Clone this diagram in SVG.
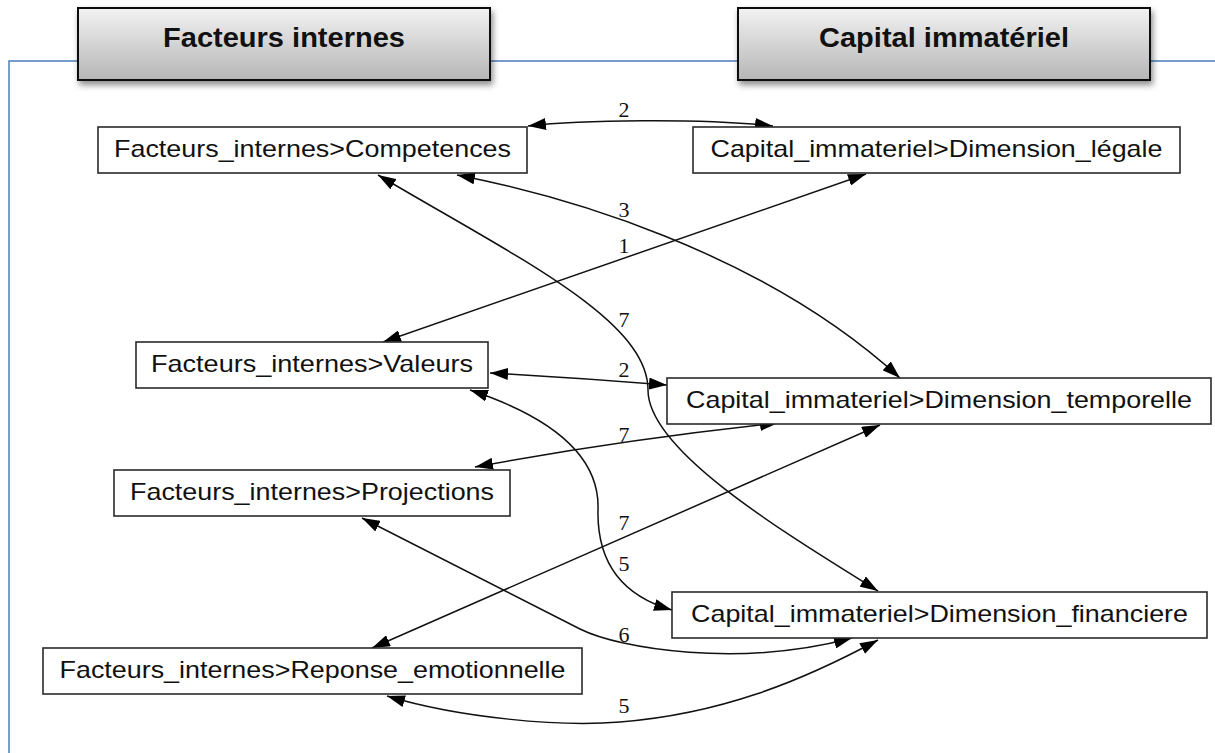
<svg xmlns="http://www.w3.org/2000/svg" width="1215" height="753" viewBox="0 0 1215 753">
  <style>
    .frame { fill: none; stroke: #4a7ebb; stroke-width: 1.5; }
    .hdr rect { fill: url(#hdrFill); stroke: #111; stroke-width: 2; filter: url(#hdrShadow); }
    .hdr text { font-family: "Liberation Sans", Arial, sans-serif; font-weight: bold; font-size: 28px; fill: #111; text-anchor: middle; }
    .node rect { fill: #fff; stroke: #2a2a2a; stroke-width: 1.6; }
    .node text { font-family: "Liberation Sans", Arial, sans-serif; font-size: 24px; fill: #111; text-anchor: middle; }
    .edge { fill: none; stroke: #111; stroke-width: 1.5; marker-start: url(#head); marker-end: url(#head); }
    .lbl { font-family: "Liberation Serif", "Times New Roman", serif; font-size: 22px; fill: #111; text-anchor: middle; }
  </style>
  <defs>
    <linearGradient id="hdrFill" x1="0" y1="0" x2="0" y2="1">
      <stop offset="0" stop-color="#f2f2f2"/>
      <stop offset="1" stop-color="#b6b6b6"/>
    </linearGradient>
    <filter id="hdrShadow" x="-10%" y="-20%" width="125%" height="160%">
      <feDropShadow dx="2" dy="4" stdDeviation="3" flood-color="#000" flood-opacity="0.45"/>
    </filter>
    <marker id="head" viewBox="0 0 18 12" refX="18" refY="6" markerWidth="18" markerHeight="12" markerUnits="userSpaceOnUse" orient="auto-start-reverse">
      <path d="M0,0 L18,6 L0,12 z" fill="#000"/>
    </marker>
  </defs>

  <rect width="1215" height="753" fill="#fff"/>

  <!-- blue frame -->
  <path class="frame" d="M9,753 V61 H1215"/>

  <!-- section headers -->
  <g id="header-facteurs" class="hdr">
    <rect x="78" y="8" width="412" height="72"/>
    <text x="284" y="47" textLength="242" lengthAdjust="spacingAndGlyphs">Facteurs internes</text>
  </g>
  <g id="header-capital" class="hdr">
    <rect x="738" y="8" width="412" height="72"/>
    <text x="944" y="47" textLength="250" lengthAdjust="spacingAndGlyphs">Capital immatériel</text>
  </g>

  <!-- connectors -->
  <g id="connectors">
    <path class="edge" d="M528,126 C580,120 700,118 773,126"/>
    <path class="edge" d="M457,175 C560,195 760,250 900,378"/>
    <path class="edge" d="M383,342 L866,174"/>
    <path class="edge" d="M378,175 C518,258 648,320 648,390 C648,450 780,530 878,591"/>
    <path class="edge" d="M490,373 Q580,378 667,385"/>
    <path class="edge" d="M475,467 Q620,440 778,423"/>
    <path class="edge" d="M372,648 L880,425"/>
    <path class="edge" d="M470,390 C560,420 600,460 598,510 C597,560 620,595 672,610"/>
    <path class="edge" d="M362,518 L580,629 C620,649 740,668 852,638"/>
    <path class="edge" d="M387,696 C460,718 560,727 620,722 C720,714 800,682 878,640"/>
    <text class="lbl" x="624" y="117">2</text>
    <text class="lbl" x="624" y="217">3</text>
    <text class="lbl" x="624" y="253">1</text>
    <text class="lbl" x="624" y="327">7</text>
    <text class="lbl" x="624" y="377">2</text>
    <text class="lbl" x="624" y="442">7</text>
    <text class="lbl" x="624" y="530">7</text>
    <text class="lbl" x="624" y="571">5</text>
    <text class="lbl" x="624" y="642">6</text>
    <text class="lbl" x="624" y="713">5</text>
  </g>

  <!-- nodes -->
  <g id="competences" class="node">
    <rect x="98" y="127" width="429" height="46"/>
    <text x="312.5" y="157" textLength="397" lengthAdjust="spacingAndGlyphs">Facteurs_internes&gt;Competences</text>
  </g>
  <g id="dimension-legale" class="node">
    <rect x="693" y="127" width="487" height="46"/>
    <text x="936.5" y="157" textLength="452" lengthAdjust="spacingAndGlyphs">Capital_immateriel&gt;Dimension_légale</text>
  </g>
  <g id="valeurs" class="node">
    <rect x="136" y="342" width="352" height="46"/>
    <text x="312" y="372" textLength="322" lengthAdjust="spacingAndGlyphs">Facteurs_internes&gt;Valeurs</text>
  </g>
  <g id="dimension-temporelle" class="node">
    <rect x="667" y="378" width="544" height="46"/>
    <text x="939" y="408" textLength="506" lengthAdjust="spacingAndGlyphs">Capital_immateriel&gt;Dimension_temporelle</text>
  </g>
  <g id="projections" class="node">
    <rect x="114" y="470" width="396" height="46"/>
    <text x="312" y="500" textLength="364" lengthAdjust="spacingAndGlyphs">Facteurs_internes&gt;Projections</text>
  </g>
  <g id="dimension-financiere" class="node">
    <rect x="672" y="592" width="535" height="46"/>
    <text x="939.5" y="622" textLength="497" lengthAdjust="spacingAndGlyphs">Capital_immateriel&gt;Dimension_financiere</text>
  </g>
  <g id="reponse-emotionnelle" class="node">
    <rect x="43" y="648" width="539" height="46"/>
    <text x="312.5" y="678" textLength="506" lengthAdjust="spacingAndGlyphs">Facteurs_internes&gt;Reponse_emotionnelle</text>
  </g>
</svg>
